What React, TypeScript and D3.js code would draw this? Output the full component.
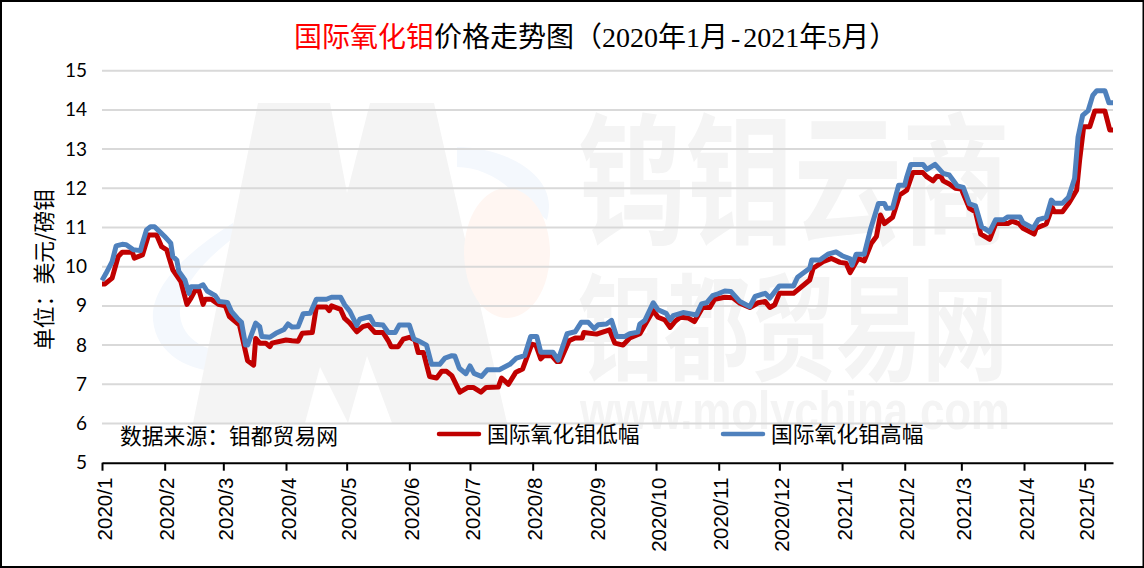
import React, { useEffect, useRef } from 'react';
import * as d3 from 'd3';

const WIDTH = 1144;
const HEIGHT = 568;

const titleRed = '国际氧化钼';
const titleBlack = '价格走势图（2020年1月';
const titleDash = '-';
const titleEnd = '2021年5月）';
const yLabel = '单位：美元/磅钼';
const sourceLabel = '数据来源：钼都贸易网';
const lowName = '国际氧化钼低幅';
const highName = '国际氧化钼高幅';
const yTicks = [5, 6, 7, 8, 9, 10, 11, 12, 13, 14, 15];

// days since 2020-01-01
const lowDays = [
  0, 1.5, 5, 8, 10, 15, 16, 20, 23, 27, 29.5, 32, 35, 39, 42, 44, 46, 48, 50, 51, 54, 57.5, 61, 63, 68, 72, 75, 76, 78, 81,
  83, 84, 91, 94, 97, 99, 104, 106, 111, 112.4, 113.5, 118, 120, 122.6, 126, 129, 131.7, 135, 139, 141.6, 143, 146.5, 149,
  152, 154.8, 156.4, 159, 162, 165.5, 168, 170.4, 173, 177, 181, 183.6, 187.4, 190, 196, 197.6, 201, 204.7, 208, 210, 212.5,
  214.6, 217, 218.5, 222.4, 225, 226.5, 231, 234, 237.5, 238.3, 244.6, 251, 253.6, 257.7, 261, 266, 272.6, 275, 278.4, 281,
  283.3, 286, 290, 293, 297, 300.6, 303, 308, 312, 315.5, 320.4, 324.5, 328, 330.3, 332.7, 335, 342, 350, 351.7, 356.6,
  360.8, 365, 368, 370, 374, 377, 380.5, 383, 385, 387, 391, 394.5, 398, 401, 406, 408, 411, 413, 415, 416, 419, 422, 425,
  429, 432, 434.6, 439, 442, 448, 450, 453.5, 455.5, 461, 462, 467, 470, 471, 475, 478, 482, 483.5, 485.5, 488.5, 491, 496,
  498.4, 500,
];
const lowPrices = [
  9.56, 9.56, 9.71, 10.26, 10.37, 10.37, 10.22, 10.3, 10.81, 10.81, 10.51, 10.43, 9.92, 9.62, 9.04, 9.2, 9.39, 9.39, 9.04, 9.17,
  9.17, 9.04, 9.0, 8.73, 8.51, 7.6, 7.49, 8.17, 8.05, 8.05, 7.96, 8.05, 8.13, 8.11, 8.1, 8.3, 8.32, 8.97, 8.97, 8.88, 9.0, 8.91,
  8.68, 8.56, 8.34, 8.47, 8.51, 8.32, 8.32, 8.11, 7.96, 7.96, 8.15, 8.2, 8.13, 7.81, 7.81, 7.2, 7.16, 7.33, 7.33, 7.22, 6.8,
  6.92, 6.92, 6.8, 6.92, 6.93, 7.16, 7.0, 7.31, 7.39, 7.67, 8.02, 8.0, 7.65, 7.73, 7.73, 7.58, 7.58, 8.11, 8.18, 8.18, 8.32,
  8.28, 8.39, 8.05, 8.0, 8.18, 8.29, 8.88, 8.71, 8.64, 8.45, 8.6, 8.71, 8.69, 8.6, 8.96, 8.96, 9.17, 9.22, 9.21, 9.07, 8.96,
  9.08, 9.11, 8.96, 9.03, 9.32, 9.32, 9.66, 9.96, 10.13, 10.21, 10.11, 10.09, 9.85, 10.21, 10.15, 10.6, 10.77, 11.32, 11.1,
  11.26, 11.83, 11.95, 12.4, 12.4, 12.29, 12.19, 12.31, 12.29, 12.19, 12.11, 12.0, 11.98, 11.49, 11.4, 10.83, 10.7, 11.1, 11.1,
  11.16, 11.1, 10.98, 10.83, 10.98, 11.09, 11.51, 11.4, 11.4, 11.61, 11.95, 12.72, 13.57, 13.57, 13.97, 13.97, 13.49, 13.49,
];

const highDays = [
  0, 2, 5, 7, 10, 12, 15.5, 19, 20, 22, 24, 26, 29, 31, 34, 35, 37, 38, 41, 43, 44, 48, 50, 52, 56, 58, 62, 64, 67, 69, 71, 72,
  76, 78, 79, 83, 86, 90, 92, 94, 97, 99.5, 103, 106, 111, 113.5, 118, 120, 122.6, 126, 127.5, 132.5, 134.6, 139, 141.6, 145,
  147, 152, 154.3, 156.4, 160.5, 163, 167, 169.6, 173, 174.5, 176.7, 180, 182, 184, 187.7, 190.5, 196.5, 201.7, 205, 209, 212,
  215, 217, 223, 225.6, 230, 234, 237, 240.5, 243.4, 245.4, 249.5, 252, 254.5, 258.6, 261, 265, 266, 268.5, 272.6, 275, 279,
  281, 282.5, 287.4, 294, 296.5, 299, 302, 304.7, 308, 311, 315.5, 320.4, 323, 328, 330.3, 335, 342, 344, 350, 351, 355, 359,
  363, 366, 370, 371, 373, 377, 380, 384, 387, 388, 391, 394, 397, 398, 400, 406, 408, 412, 416, 419, 423, 426, 429, 432, 435,
  439, 442, 446, 448, 454, 455.5, 460.5, 463, 467, 469.5, 471, 475, 478, 481, 482.7, 485, 487.7, 490, 492, 496, 498, 500,
];
const highPrices = [
  9.65, 9.83, 10.13, 10.53, 10.57, 10.56, 10.43, 10.41, 10.6, 10.94, 11.02, 11.02, 10.87, 10.77, 10.6, 10.26, 10.17, 9.88, 9.66,
  9.32, 9.49, 9.49, 9.54, 9.38, 9.26, 9.11, 9.09, 8.86, 8.68, 8.58, 8.0, 8.0, 8.56, 8.47, 8.22, 8.2, 8.3, 8.4, 8.54, 8.46, 8.47,
  8.8, 8.81, 9.17, 9.17, 9.22, 9.22, 9.03, 8.86, 8.5, 8.66, 8.73, 8.53, 8.51, 8.32, 8.32, 8.51, 8.51, 8.15, 8.11, 8.0, 7.51, 7.51,
  7.67, 7.73, 7.72, 7.41, 7.27, 7.47, 7.28, 7.2, 7.37, 7.37, 7.51, 7.67, 7.73, 8.22, 8.22, 7.82, 7.82, 7.62, 8.29, 8.34, 8.58,
  8.58, 8.42, 8.52, 8.54, 8.63, 8.22, 8.22, 8.29, 8.33, 8.54, 8.63, 9.08, 8.9, 8.81, 8.64, 8.75, 8.83, 8.77, 9.05, 9.08, 9.26,
  9.31, 9.38, 9.37, 9.11, 8.98, 9.24, 9.32, 9.2, 9.51, 9.51, 9.73, 9.96, 10.17, 10.17, 10.32, 10.38, 10.28, 10.2, 10.04, 10.32,
  10.32, 10.94, 11.61, 11.61, 11.49, 11.5, 12.08, 12.08, 12.29, 12.61, 12.61, 12.48, 12.61, 12.38, 12.34, 12.06, 12.02, 11.6,
  11.55, 11.02, 10.89, 11.2, 11.2, 11.27, 11.27, 11.12, 10.98, 11.2, 11.26, 11.7, 11.62, 11.62, 11.77, 12.25, 13.3, 13.86, 13.98,
  14.37, 14.49, 14.49, 14.18, 14.18,
];

const SANS = '"Noto Sans CJK SC", "Noto Sans", sans-serif';
const startDate = new Date(2020, 0, 1);
const toDate = (d: number) => new Date(startDate.getTime() + d * 86400000);

function App() {
  const ref = useRef<SVGSVGElement>(null);

  useEffect(() => {
    const svg = d3.select(ref.current);
    svg.selectAll('*').remove();

    const x = d3.scaleTime().domain([toDate(0), toDate(500)]).range([102, 1113]);
    const y = d3.scaleLinear().domain([5, 15]).range([462.7, 70.7]);

    svg.append('rect').attr('width', WIDTH).attr('height', HEIGHT).attr('fill', '#fff');

    // watermark
    const mark = svg.append('g');
    mark.append('path')
      .attr('d', 'M233,223 C190,250 150,285 153,320 C156,355 190,372 225,372 C300,372 400,335 473,297 L470,291 C400,318 300,345 235,353 C200,352 178,335 180,308 C182,285 205,260 233,238 Z')
      .attr('fill', '#f4f8fd');
    mark.append('path')
      .attr('d', 'M457,147 C500,147 548,170 549,205 C549,212 548,216 547,220 L520,200 C505,180 480,167 457,167 Z')
      .attr('fill', '#f4f8fd');
    mark.append('path')
      .attr('d', 'M258,103 L330,103 L347,193 L370,103 L434,103 L507,423 L392,423 L367,356 L348,423 L305,423 L320,367 L305,423 L193,423 Z')
      .attr('fill', '#f4f4f4');
    mark.append('path')
      .attr('d', 'M320,367 L348,423 L305,423 Z')
      .attr('fill', '#fff');
    mark.append('ellipse')
      .attr('cx', 507).attr('cy', 253).attr('rx', 43).attr('ry', 65)
      .attr('fill', '#fff6f2');
    mark.append('text')
      .attr('transform', 'translate(578,233) scale(1,1.32)')
      .attr('font-family', SANS).attr('font-weight', 700).attr('font-size', 108)
      .attr('fill', '#f4f4f4')
      .attr('textLength', 432)
      .text('钨钼云商');
    mark.append('text')
      .attr('transform', 'translate(578,371) scale(1,1.35)')
      .attr('font-family', SANS).attr('font-weight', 700).attr('font-size', 86)
      .attr('fill', '#f4f4f4')
      .attr('textLength', 430)
      .text('钼都贸易网');
    mark.append('text')
      .attr('transform', 'translate(580,429) scale(1,1.2)')
      .attr('font-family', '"Liberation Sans", sans-serif').attr('font-weight', 700).attr('font-size', 44)
      .attr('fill', '#f4f4f4')
      .attr('textLength', 430)
      .text('www.molychina.com');

    // grid
    svg.append('g')
      .selectAll('line')
      .data(yTicks.filter(d => d > 5))
      .enter().append('line')
      .attr('x1', 102).attr('x2', 1113)
      .attr('y1', d => y(d)).attr('y2', d => y(d))
      .attr('stroke', '#d9d9d9')
      .attr('stroke-width', 2);

    // y axis: labels only
    const yAxis = svg.append('g')
      .attr('transform', 'translate(102,0)')
      .call(d3.axisLeft(y).tickValues(yTicks).tickFormat(d3.format('d')).tickSize(0).tickPadding(15));
    yAxis.select('.domain').remove();
    yAxis.selectAll('text')
      .attr('font-family', 'Lato, sans-serif')
      .attr('font-size', 19)
      .attr('fill', '#000');

    // x axis
    const xAxis = svg.append('g')
      .attr('transform', 'translate(0,462.7)')
      .call(
        d3.axisBottom(x)
          .ticks(d3.timeMonth.every(1))
          .tickFormat(d3.timeFormat('%Y/%-m') as any)
          .tickSize(8)
          .tickSizeOuter(0)
      );
    xAxis.select('.domain').attr('stroke', '#000').attr('stroke-width', 2);
    xAxis.selectAll('line').attr('stroke', '#000').attr('stroke-width', 2);
    xAxis.selectAll('text')
      .attr('transform', 'rotate(-90)')
      .attr('text-anchor', 'end')
      .attr('x', -15)
      .attr('y', 2)
      .attr('dy', '0.35em')
      .attr('font-family', '"Liberation Sans", sans-serif')
      .attr('font-size', 20.5)
      .attr('fill', '#000');

    // lines
    const makeLine = (days: number[]) =>
      d3.line<number>()
        .x((_, i) => x(toDate(days[i])))
        .y(d => y(d));

    svg.append('path')
      .attr('d', makeLine(lowDays)(lowPrices))
      .attr('fill', 'none')
      .attr('stroke', '#c00000')
      .attr('stroke-width', 5)
      .attr('stroke-linejoin', 'round');
    svg.append('path')
      .attr('d', makeLine(highDays)(highPrices))
      .attr('fill', 'none')
      .attr('stroke', '#4f81bd')
      .attr('stroke-width', 5)
      .attr('stroke-linejoin', 'round');

    // title
    const title = svg.append('text')
      .attr('x', 294).attr('y', 47)
      .attr('font-family', '"Liberation Serif", "Noto Sans CJK SC", serif')
      .attr('font-size', 28);
    title.append('tspan').attr('fill', '#ff0000').text(titleRed);
    title.append('tspan').attr('fill', '#000').text(titleBlack);
    title.append('tspan').attr('fill', '#000').attr('dx', 3).text(titleDash);
    title.append('tspan').attr('fill', '#000').attr('dx', 3).text(titleEnd);

    // y label
    svg.append('text')
      .attr('transform', 'translate(52,350) rotate(-90)')
      .attr('font-family', SANS)
      .attr('font-size', 21.8)
      .attr('fill', '#000')
      .text(yLabel);

    // source
    svg.append('text')
      .attr('x', 120).attr('y', 444)
      .attr('font-family', SANS)
      .attr('font-size', 21.8)
      .attr('fill', '#000')
      .text(sourceLabel);

    // legend
    const legend = [
      { name: lowName, color: '#c00000', lx: 437 },
      { name: highName, color: '#4f81bd', lx: 721 },
    ];
    legend.forEach(l => {
      svg.append('line')
        .attr('x1', l.lx + 2).attr('x2', l.lx + 42)
        .attr('y1', 434).attr('y2', 434)
        .attr('stroke', l.color)
        .attr('stroke-width', 4.5)
        .attr('stroke-linecap', 'round');
      svg.append('text')
        .attr('x', l.lx + 50).attr('y', 442)
        .attr('font-family', SANS)
        .attr('font-size', 21.8)
        .attr('fill', '#000')
        .text(l.name);
    });

    // frame
    svg.append('rect')
      .attr('x', 1).attr('y', 1)
      .attr('width', WIDTH - 1.5).attr('height', HEIGHT - 2)
      .attr('fill', 'none')
      .attr('stroke', '#000')
      .attr('stroke-width', 2);
  }, []);

  return (
    <svg
      ref={ref}
      width={WIDTH}
      height={HEIGHT}
      style={{ position: 'absolute', left: 0, top: 0, display: 'block' }}
    ></svg>
  );
}

export default App;
